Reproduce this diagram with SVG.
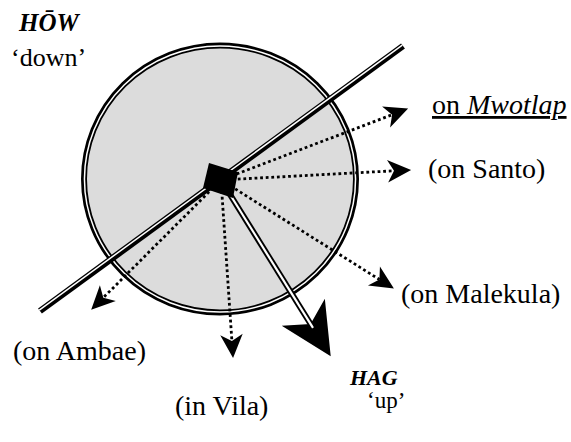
<svg xmlns="http://www.w3.org/2000/svg" width="571" height="442" viewBox="0 0 571 442">
<style>
text{font-family:"Liberation Serif","Times New Roman",serif;fill:#000}
.lbl{font-size:28px}
.dot{fill:none;stroke:#000;stroke-width:2.8;stroke-dasharray:2.8 2.8}
</style>
<defs>
<marker id="ah" markerUnits="userSpaceOnUse" markerWidth="30" markerHeight="30" viewBox="-2 -14 28 28" refX="6" refY="0" orient="auto" overflow="visible">
<path d="M22,0 L0,-10.5 L6,0 L0,10.5 Z" fill="#000"/>
</marker>
<marker id="big" markerUnits="userSpaceOnUse" markerWidth="60" markerHeight="60" viewBox="-2 -26 50 52" refX="12" refY="0" orient="auto" overflow="visible">
<path d="M45,0 L0,-22 L12,0 L0,22 Z" fill="#000"/>
</marker>
</defs>
<g id="circle">
<ellipse cx="220" cy="179" rx="136" ry="133.5" fill="#dcdcdc" stroke="#000" stroke-width="6"/>
<ellipse cx="220" cy="179" rx="135.55" ry="133.05" fill="none" stroke="#fff" stroke-width="1.5"/>
</g>
<g id="connectors">
<g id="axis">
<line x1="40" y1="311" x2="403" y2="46" stroke="#000" stroke-width="6.5"/>
<line x1="39.29" y1="310.03" x2="402.29" y2="45.03" stroke="#fff" stroke-width="1.5"/>
</g>
<line class="dot" x1="221" y1="180" x2="392.1" y2="114.7" marker-end="url(#ah)"/>
<line class="dot" x1="221" y1="180" x2="394.0" y2="170.8" marker-end="url(#ah)"/>
<line class="dot" x1="221" y1="180" x2="379.4" y2="279.5" marker-end="url(#ah)"/>
<line class="dot" x1="221" y1="180" x2="103.3" y2="297.7" marker-end="url(#ah)"/>
<line class="dot" x1="221" y1="180" x2="231.9" y2="341.0" marker-end="url(#ah)"/>
<g id="hag-arrow">
<line x1="221" y1="180" x2="310.6" y2="324" stroke="#000" stroke-width="6" marker-end="url(#big)"/>
<line x1="221" y1="180" x2="313" y2="327.8" stroke="#fff" stroke-width="2.2"/>
</g>
</g>
<g id="center">
<polygon points="209,163 238,172 233,198 203,188" fill="#000"/>
</g>
<g id="how">
<text x="19" y="31" font-size="25" font-weight="bold" font-style="italic">HŌW</text>
<text x="11" y="66" font-size="26">‘down’</text>
</g>
<g id="mwotlap"><text class="lbl" x="432" y="114" text-decoration="underline">on <tspan font-style="italic">Mwotlap</tspan></text></g>
<g id="santo"><text class="lbl" x="428" y="178" font-size="29">(on Santo)</text></g>
<g id="malekula"><text class="lbl" x="401" y="303" font-size="29">(on Malekula)</text></g>
<g id="ambae"><text class="lbl" x="13" y="360">(on Ambae)</text></g>
<g id="vila"><text class="lbl" x="175" y="415">(in Vila)</text></g>
<g id="hag">
<text x="350" y="385" font-size="22" font-weight="bold" font-style="italic">HAG</text>
<text x="367" y="408" font-size="23">‘up’</text>
</g>
</svg>
